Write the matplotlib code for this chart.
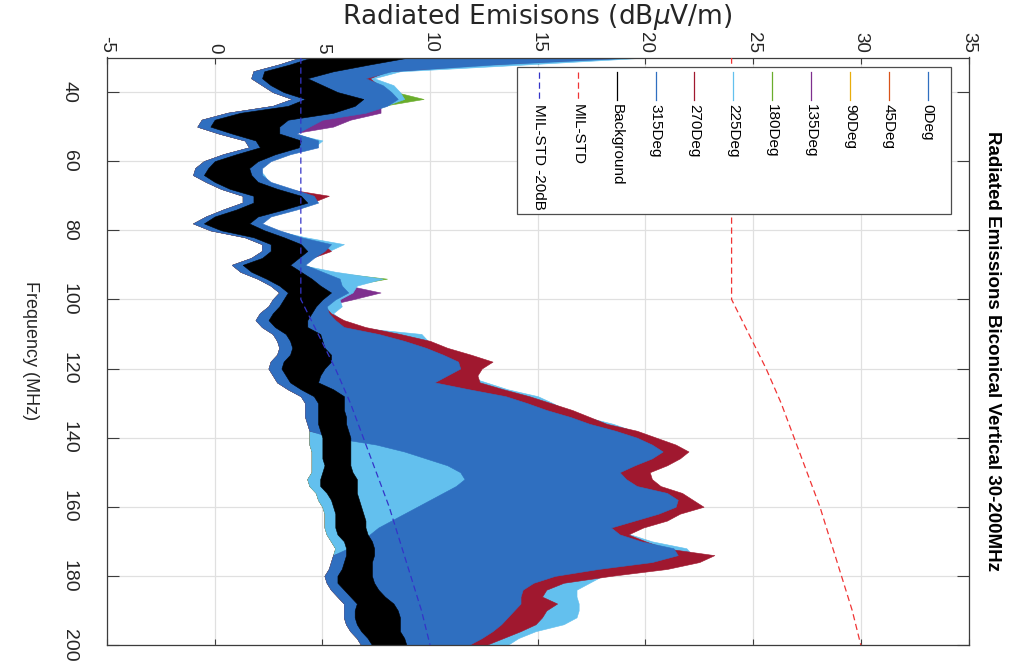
import numpy as np
import matplotlib
matplotlib.use('Agg')
import matplotlib.pyplot as plt
from matplotlib.lines import Line2D
from matplotlib.patches import Rectangle

plt.rcParams['font.family'] = ['Liberation Sans', 'DejaVu Sans']
plt.rcParams['axes.unicode_minus'] = False

# frequency grid (MHz), 2 MHz bins, 30..200
freq = np.arange(30, 202, 2)

# ambient / background envelope (dBuV/m), min and max per bin
bg_lo = [4.5, 3.5, 2.3, 2.2, 2.6,
         3.2, 4.2, 3.4, 1.2, 0.0,
         -0.2, 0.8, 1.9, 2.1, 1.0,
         0.0, -0.3, -0.5, 0.0, 0.7,
         1.8, 1.8, 1.0, 0.0, -0.5,
         0.3, 1.8, 2.6, 2.6, 2.2,
         1.3, 1.7, 2.4, 3.0, 3.4,
         3.2, 3.0, 2.7, 2.5, 2.8,
         3.3, 3.5, 3.6, 3.5, 3.2,
         3.1, 3.3, 3.5, 4.0, 4.6,
         4.8, 4.8, 4.8, 4.8, 4.9,
         5.0, 5.0, 5.0, 5.0, 5.1,
         5.0, 4.9, 4.9, 5.2, 5.4,
         5.5, 5.6, 5.6, 5.6, 5.7,
         6.0, 6.1, 6.1, 6.0, 5.9,
         5.7, 5.7, 6.0, 6.3, 6.6,
         6.5, 6.5, 6.6, 6.8, 7.1,
         7.3]
bg_hi = [9.0, 7.2, 5.5, 4.3, 5.0,
         5.7, 6.9, 6.5, 5.5, 3.4,
         3.0, 3.0, 4.0, 3.9, 2.8,
         2.0, 1.6, 1.7, 2.0, 2.9,
         4.0, 4.3, 3.2, 2.0, 1.6,
         2.3, 3.2, 4.0, 4.3, 3.9,
         3.5, 4.0, 4.5, 4.9, 5.4,
         5.0, 4.7, 4.5, 4.3, 4.3,
         4.9, 5.0, 5.1, 5.4, 5.4,
         5.1, 4.9, 4.8, 5.5, 6.0,
         6.0, 6.0, 6.1, 6.1, 6.2,
         6.3, 6.3, 6.3, 6.3, 6.3,
         6.4, 6.6, 6.6, 6.6, 6.7,
         6.8, 6.9, 7.0, 7.0, 7.1,
         7.3, 7.4, 7.4, 7.3, 7.3,
         7.3, 7.4, 7.6, 7.9, 8.3,
         8.5, 8.6, 8.6, 8.6, 8.8,
         8.9]

# lower envelope of the turntable sweeps
deg_lo = [4.0, 3.0, 1.8, 1.7, 2.2,
          2.7, 3.6, 2.7, 0.6, -0.6,
          -0.8, 0.2, 1.4, 1.6, 0.4,
          -0.5, -0.9, -1.0, -0.4, 0.3,
          1.3, 1.3, 0.4, -0.4, -1.0,
          -0.2, 1.4, 2.2, 2.2, 1.7,
          0.8, 1.2, 2.0, 2.6, 3.0,
          2.7, 2.5, 2.1, 1.9, 2.2,
          2.7, 2.9, 3.0, 2.9, 2.6,
          2.5, 2.7, 2.9, 3.4, 4.0,
          4.2, 4.2, 4.2, 4.3, 4.4,
          4.4, 4.4, 4.5, 4.5, 4.5,
          4.5, 4.3, 4.4, 4.7, 4.8,
          5.0, 5.1, 5.1, 5.1, 5.2,
          5.4, 5.6, 5.5, 5.4, 5.3,
          5.1, 5.2, 5.4, 5.7, 6.0,
          6.0, 6.0, 6.1, 6.3, 6.6,
          6.8]

# 270 and 315 deg sit higher above the floor between 140 and 175 MHz
lo270 = [4.0, 3.0, 1.8, 1.7, 2.2,
         2.7, 3.6, 2.7, 0.6, -0.6,
         -0.8, 0.2, 1.4, 1.6, 0.4,
         -0.5, -0.9, -1.0, -0.4, 0.3,
         1.3, 1.3, 0.4, -0.4, -1.0,
         -0.2, 1.4, 2.2, 2.2, 1.7,
         0.8, 1.2, 2.0, 2.6, 3.0,
         2.7, 2.5, 2.1, 1.9, 2.2,
         2.7, 2.9, 3.0, 2.9, 2.6,
         2.5, 2.7, 2.9, 3.4, 4.0,
         4.2, 4.2, 4.2, 4.3, 4.4,
         6.0, 8.0, 9.5, 10.5, 11.5,
         12.0, 12.2, 12.0, 11.4, 10.8,
         10.2, 9.6, 9.0, 8.4, 7.8,
         7.2, 6.5, 5.5, 5.4, 5.3,
         5.1, 5.2, 5.4, 5.7, 6.0,
         6.0, 6.0, 6.1, 6.3, 6.6,
         6.8]
lo315 = [4.0, 3.0, 1.8, 1.7, 2.2,
         2.7, 3.6, 2.7, 0.6, -0.6,
         -0.8, 0.2, 1.4, 1.6, 0.4,
         -0.5, -0.9, -1.0, -0.4, 0.3,
         1.3, 1.3, 0.4, -0.4, -1.0,
         -0.2, 1.4, 2.2, 2.2, 1.7,
         0.8, 1.2, 2.0, 2.6, 3.0,
         2.7, 2.5, 2.1, 1.9, 2.2,
         2.7, 2.9, 3.0, 2.9, 2.6,
         2.5, 2.7, 2.9, 3.4, 4.0,
         4.2, 4.2, 4.2, 4.3, 4.4,
         5.5, 7.5, 8.8, 9.8, 10.8,
         11.4, 11.6, 11.2, 10.6, 10.0,
         9.4, 8.8, 8.2, 7.6, 7.2,
         6.8, 6.2, 5.5, 5.4, 5.3,
         5.1, 5.2, 5.4, 5.7, 6.0,
         6.0, 6.0, 6.1, 6.3, 6.6,
         6.8]

# upper envelope per turntable angle
s0 = [18.8, 12.2, 7.9, 6.9, 7.5,
      7.9, 8.1, 7.5, 6.3, 4.5,
      3.9, 3.5, 4.4, 4.4, 3.2,
      2.3, 1.9, 2.0, 2.4, 3.3,
      4.3, 4.4, 3.4, 2.3, 1.9,
      2.7, 3.7, 4.9, 4.9, 4.3,
      4.0, 4.7, 5.5, 5.7, 5.9,
      5.1, 4.7, 4.7, 4.9, 5.3,
      6.7, 7.8, 8.6, 9.4, 10.0,
      9.9, 9.6, 9.6, 10.6, 12.0,
      12.6, 13.2, 14.1, 14.9, 15.8,
      16.4, 16.8, 17.1, 16.8, 16.2,
      15.6, 15.8, 16.4, 17.2, 17.6,
      17.6, 17.0, 16.2, 15.6, 15.8,
      16.6, 17.6, 17.4, 16.6, 15.0,
      13.6, 12.8, 12.4, 12.2, 12.3,
      12.1, 11.8, 11.6, 11.4, 11.0,
      10.6]
s45 = [17.5, 11.0, 7.4, 6.6, 7.2,
       7.6, 7.8, 7.2, 6.0, 4.2,
       3.6, 3.2, 4.1, 4.1, 3.0,
       2.1, 1.7, 1.9, 2.2, 3.1,
       4.0, 4.1, 3.3, 2.1, 1.7,
       2.5, 3.5, 4.6, 4.6, 4.1,
       3.8, 4.5, 5.2, 5.4, 5.6,
       4.8, 4.4, 4.4, 4.6, 5.0,
       6.4, 7.4, 8.2, 9.0, 9.6,
       9.5, 9.2, 9.2, 10.2, 11.6,
       12.2, 12.8, 13.7, 14.5, 15.4,
       16.0, 16.4, 16.7, 16.4, 15.8,
       15.2, 15.4, 16.0, 16.8, 17.2,
       17.2, 16.6, 15.8, 15.2, 15.4,
       16.2, 17.2, 17.0, 16.2, 14.6,
       13.2, 12.4, 12.0, 11.8, 11.9,
       11.7, 11.4, 11.2, 11.0, 10.6,
       10.2]
s90 = [18.0, 11.5, 7.6, 6.8, 7.4,
       7.8, 8.0, 7.4, 6.2, 4.4,
       3.8, 3.4, 4.3, 4.3, 3.1,
       2.2, 1.8, 2.0, 2.3, 3.2,
       4.2, 4.3, 3.4, 2.2, 1.8,
       2.6, 3.6, 4.8, 4.8, 4.2,
       3.9, 4.6, 5.4, 5.6, 5.8,
       5.0, 4.6, 4.6, 4.8, 5.2,
       6.6, 7.6, 8.4, 9.2, 9.8,
       9.7, 9.4, 9.4, 10.4, 11.8,
       12.4, 13.0, 13.9, 14.7, 15.6,
       16.2, 16.6, 16.9, 16.6, 16.0,
       15.4, 15.6, 16.2, 17.0, 17.4,
       17.4, 16.8, 16.0, 15.4, 15.6,
       16.4, 17.4, 17.2, 16.4, 14.8,
       13.4, 12.6, 12.2, 12.0, 12.1,
       11.9, 11.6, 11.4, 11.2, 10.8,
       10.4]
s135 = [19.0, 12.0, 7.8, 7.0, 7.7,
        8.0, 8.3, 7.7, 7.7, 6.3,
        5.5, 3.6, 4.5, 4.4, 3.3,
        2.4, 2.0, 2.1, 2.5, 3.3,
        4.4, 4.5, 3.5, 2.4, 2.0,
        2.8, 3.7, 5.0, 5.0, 4.5,
        4.0, 5.0, 5.6, 6.2, 7.7,
        6.4, 5.0, 4.9, 5.1, 5.5,
        6.8, 7.8, 8.6, 9.4, 10.0,
        9.9, 9.6, 9.6, 10.6, 12.0,
        12.6, 13.2, 14.1, 14.9, 15.8,
        16.4, 16.8, 17.1, 16.8, 16.2,
        15.6, 15.8, 16.4, 17.2, 17.6,
        17.6, 17.0, 16.2, 15.6, 15.8,
        16.6, 17.6, 17.4, 16.6, 15.0,
        13.6, 12.8, 12.4, 12.2, 12.3,
        12.1, 11.8, 11.6, 11.4, 11.0,
        10.6]
s180 = [18.5, 12.0, 7.8, 7.2, 8.0,
        8.4, 9.7, 7.8, 6.4, 4.6,
        4.0, 3.5, 4.6, 4.4, 3.2,
        2.4, 2.0, 2.1, 2.4, 3.4,
        4.3, 4.5, 3.5, 2.4, 2.0,
        2.8, 3.8, 5.2, 5.0, 4.4,
        4.1, 5.2, 8.0, 6.2, 6.0,
        5.4, 5.0, 5.0, 5.2, 5.6,
        7.0, 8.0, 8.8, 9.6, 10.2,
        10.1, 9.8, 9.8, 10.8, 12.2,
        12.8, 13.4, 14.3, 15.1, 16.0,
        16.6, 17.0, 17.3, 17.0, 16.4,
        15.8, 16.0, 16.6, 17.4, 17.8,
        17.8, 17.2, 16.4, 15.8, 16.0,
        16.8, 17.8, 17.6, 16.8, 15.2,
        13.8, 13.0, 12.6, 12.4, 12.5,
        12.3, 12.0, 11.8, 11.6, 11.2,
        10.8]
s225 = [20.1, 14.5, 8.6, 7.4, 8.3,
        8.6, 8.8, 7.9, 6.6, 4.8,
        4.0, 3.6, 5.0, 4.6, 3.3,
        2.4, 2.0, 2.3, 2.5, 3.4,
        4.4, 4.6, 3.6, 2.4, 2.0,
        2.8, 4.2, 6.0, 5.3, 4.4,
        4.0, 5.6, 7.8, 6.6, 6.4,
        5.8, 5.9, 5.5, 5.9, 6.4,
        9.6, 9.9, 10.4, 11.5, 12.1,
        11.9, 11.6, 12.6, 13.6, 15.0,
        15.7, 16.3, 17.2, 18.5, 19.4,
        20.4, 21.0, 21.4, 21.0, 20.2,
        19.9, 19.8, 20.2, 21.3, 21.8,
        21.9, 20.9, 19.8, 19.2, 19.3,
        20.3, 21.9, 22.2, 22.1, 19.6,
        18.0, 17.4, 16.8, 16.8, 16.9,
        16.9, 16.8, 16.2, 14.9, 14.1,
        13.6]
s270 = [19.0, 12.5, 8.0, 7.2, 7.6,
        8.0, 8.2, 7.6, 6.4, 4.6,
        3.9, 3.4, 4.4, 4.5, 3.2,
        2.3, 1.9, 2.1, 2.4, 3.3,
        5.3, 4.5, 3.5, 2.3, 1.9,
        2.7, 3.8, 5.0, 5.4, 4.5,
        4.0, 4.8, 5.6, 5.6, 5.8,
        5.4, 5.1, 5.4, 6.0, 7.0,
        8.6, 10.0, 10.8, 11.9, 12.9,
        12.4, 12.2, 12.3, 13.4, 14.6,
        15.6, 16.6, 17.4, 18.2, 19.6,
        20.5, 21.4, 22.0, 21.6, 21.0,
        20.2, 20.3, 20.7, 21.7, 22.2,
        22.7, 21.6, 21.0, 19.9, 19.2,
        20.0, 20.9, 23.2, 22.5, 21.0,
        18.4, 16.2, 15.4, 15.2, 15.9,
        15.4, 15.2, 14.9, 14.2, 13.4,
        12.6]
s315 = [19.5, 13.0, 8.2, 7.0, 7.8,
        8.2, 8.5, 8.0, 7.0, 5.0,
        4.4, 3.8, 4.8, 4.8, 3.5,
        2.6, 2.2, 2.2, 2.6, 3.6,
        4.6, 4.8, 3.8, 2.6, 2.2,
        3.0, 4.0, 5.4, 5.1, 4.6,
        4.2, 5.0, 5.8, 5.9, 6.2,
        5.6, 5.2, 5.3, 5.6, 6.0,
        7.6, 8.8, 9.8, 10.6, 11.3,
        11.4, 10.8, 10.2, 11.8, 13.5,
        14.5, 15.4, 16.5, 17.4, 18.6,
        19.6, 20.3, 20.8, 20.3, 19.5,
        18.8, 19.1, 19.6, 21.0, 21.5,
        21.4, 20.6, 19.5, 18.4, 18.8,
        19.8, 21.3, 21.5, 20.3, 17.8,
        15.8, 14.8, 14.3, 14.2, 14.2,
        13.9, 13.6, 13.3, 12.9, 12.4,
        11.8]

# MIL-STD limit line
mil_f = [30, 100, 110, 120, 130, 140, 150, 160, 170, 180, 190, 200]
mil_std = [24.0, 24.0, 24.8, 25.6, 26.3, 26.9, 27.5, 28.1, 28.6, 29.1, 29.6, 30.0]
mil_std_20 = [v - 20 for v in mil_std]

sweeps = [('0Deg', deg_lo, s0, '#2f6fc0'),
          ('45Deg', deg_lo, s45, '#d95319'),
          ('90Deg', deg_lo, s90, '#e8ad0c'),
          ('135Deg', deg_lo, s135, '#7e2f8e'),
          ('180Deg', deg_lo, s180, '#6aad2c'),
          ('225Deg', deg_lo, s225, '#63c0ee'),
          ('270Deg', lo270, s270, '#a0182f'),
          ('315Deg', lo315, s315, '#2f6fc0')]

W, H = 1016, 661
fig = plt.figure(figsize=(W / 100, H / 100), dpi=100)


def fx(px):
    return px / W


def fy(py):
    return 1 - py / H


ax = fig.add_axes([fx(107), fy(645), (968.5 - 107) / W, (645 - 57.5) / H])

for name, lo, hi, col in sweeps:
    ax.fill_betweenx(freq, lo, hi, facecolor=col, edgecolor=col, lw=0.4, zorder=2)
ax.fill_betweenx(freq, bg_lo, bg_hi, facecolor='k', edgecolor='k', lw=0.4, zorder=2)
ax.plot(mil_std, mil_f, color='#f03434', lw=0.9, dashes=(5, 3), zorder=3)
ax.plot(mil_std_20, mil_f, color='#3434c8', lw=0.9, dashes=(5, 3), zorder=3)

ax.set_xlim(-5, 35)
ax.set_ylim(200, 30)
ax.set_xticks(range(-5, 36, 5))
ax.set_yticks(range(40, 201, 20))
ax.grid(True, color='#e0e0e0', lw=0.9)
ax.set_axisbelow(True)
for sp in ax.spines.values():
    sp.set_color('#3c3c3c')
    sp.set_linewidth(0.9)

ax.tick_params(axis='x', direction='in', top=True, bottom=True, labeltop=True,
               labelbottom=False, length=4.5, width=0.8, pad=3, labelsize=13.5,
               labelrotation=270, color='#3c3c3c', labelcolor='#262626')
ax.tick_params(axis='y', direction='in', left=True, right=True, length=8.6,
               width=0.8, pad=21, labelsize=14, labelrotation=270,
               color='#3c3c3c', labelcolor='#262626')
for t in ax.get_yticklabels():
    t.set_va('center')

fig.text(fx(537), fy(24), r'Radiated Emisisons (dB$\mu$V/m)', ha='center',
         va='baseline', fontsize=19, family='DejaVu Sans', color='#262626')
fig.text(fx(30), fy(351), 'Frequency (MHz)', rotation=270, ha='center',
         va='center', fontsize=13, color='#262626')
fig.text(fx(993), fy(351), 'Radiated Emissions Biconical Vertical 30-200MHz',
         rotation=270, ha='center', va='center', fontsize=13.5, weight='bold')

# legend, entries stacked right to left
entries = [(n, c, '-') for n, _, _, c in sweeps]
entries += [('Background', 'k', '-'), ('MIL-STD', '#f03434', '--'),
            ('MIL-STD -20dB', '#3434c8', '--')]
fig.add_artist(Rectangle((fx(516.7), fy(214)), (950.7 - 516.7) / W, (214 - 66.7) / H,
                         transform=fig.transFigure, facecolor='white',
                         edgecolor='#4d4d4d', lw=0.9, zorder=3))
for i, (label, col, ls) in enumerate(entries):
    x = 927.7 - i * 38.87
    ln = Line2D([fx(x), fx(x)], [fy(71.7), fy(100)], color=col, lw=0.9,
                transform=fig.transFigure, zorder=4)
    if ls == '--':
        ln.set_dashes((5, 3))
    fig.add_artist(ln)
    fig.text(fx(x), fy(104.3), label, rotation=270, ha='center', va='top',
             fontsize=11, zorder=5)

fig.savefig('out.png', dpi=100)
